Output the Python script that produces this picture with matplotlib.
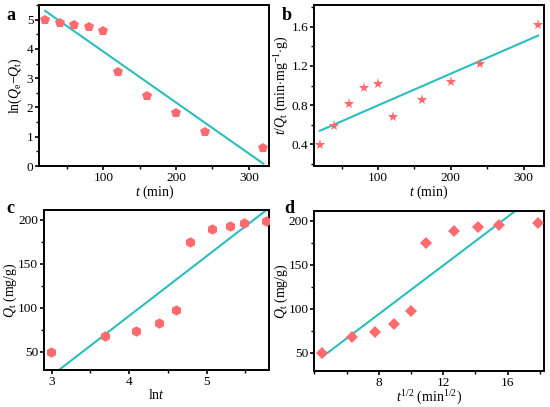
import numpy as np
import matplotlib
matplotlib.use('Agg')
import matplotlib.pyplot as plt
from matplotlib.ticker import AutoMinorLocator

plt.rcParams['font.family'] = ['Liberation Serif', 'DejaVu Serif']
plt.rcParams['mathtext.fontset'] = 'custom'
plt.rcParams['mathtext.rm'] = 'Liberation Serif'
plt.rcParams['mathtext.it'] = 'Liberation Serif:italic'
plt.rcParams['mathtext.bf'] = 'Liberation Serif:bold'

# Data
t = np.array([20, 40, 60, 80, 100, 120, 160, 200, 240, 320])
ln_t = np.log(t)
sqrt_t = np.sqrt(t)
ln_qe_qt = [5.0, 4.88, 4.83, 4.76, 4.62, 3.2, 2.38, 1.82, 1.15, 0.6]
t_over_qt = [0.39, 0.59, 0.81, 0.97, 1.02, 0.68, 0.85, 1.04, 1.22, 1.62]
qt = [50, 68, 74, 83, 98, 175, 189, 193, 196, 198]

# Fitted lines (slope, intercept)
fit_a = (-0.0174, 5.648)
fit_b = (0.00323, 0.475)
fit_c = (67.7, -179.9)
fit_d = (13.86, -16.96)

pt_color = '#FF6B6E'
ln_color = '#2DBDBD'
fs_tick = 9.6
fs = 10

fig = plt.figure(figsize=(5.5, 4.07), dpi=100)
ax_a = fig.add_axes([0.0715, 0.592, 0.418, 0.3957])
ax_b = fig.add_axes([0.571, 0.592, 0.418, 0.3957])
ax_c = fig.add_axes([0.08, 0.091, 0.4096, 0.393])
ax_d = fig.add_axes([0.5715, 0.0892, 0.418, 0.3924])

panels = [
    (ax_a, t, ln_qe_qt, fit_a, 'p', 7.5),
    (ax_b, t, t_over_qt, fit_b, '*', 8),
    (ax_c, ln_t, qt, fit_c, 'h', 7.5),
    (ax_d, sqrt_t, qt, fit_d, 'D', 6.5),
]

for ax, x, y, fit, mk, ms in panels:
    xx = np.array([x[0], x[-1]])
    ax.plot(xx, fit[0] * xx + fit[1], color=ln_color, lw=1.5, zorder=2)
    ax.plot(x, y, linestyle='none', marker=mk, ms=ms, color=pt_color,
            markeredgewidth=0, zorder=3)
    for s in ax.spines.values():
        s.set_linewidth(1.4)
    ax.tick_params(direction='out', labelsize=fs_tick, width=1.2, length=3, pad=1.2)
    ax.tick_params(which='minor', direction='out', width=1.0, length=2)
    ax.xaxis.set_minor_locator(AutoMinorLocator(2))
    ax.yaxis.set_minor_locator(AutoMinorLocator(2))

ax_a.set_xlim(12, 328)
ax_a.set_ylim(0, 5.5)
ax_a.set_xticks([100, 200, 300])
ax_a.set_yticks([0, 1, 2, 3, 4, 5])
ax_a.set_xlabel(r'$\mathit{t}$ (min)', fontsize=fs, labelpad=0)
ax_a.set_ylabel(r'ln($\mathit{Q}_\mathrm{e}$$-$$\mathit{Q}_\mathrm{t}$)', fontsize=fs)
ax_a.yaxis.set_label_coords(-0.068, 0.5)

ax_b.set_xlim(12, 328)
ax_b.set_ylim(0.18, 1.82)
ax_b.set_xticks([100, 200, 300])
ax_b.set_yticks([0.4, 0.8, 1.2, 1.6])
ax_b.set_xlabel(r'$\mathit{t}$ (min)', fontsize=fs, labelpad=0)
ax_b.set_ylabel(r'$\mathit{t}$/$\mathit{Q}_\mathrm{t}$ (min$\cdot$mg$^{-1}$$\cdot$g)', fontsize=fs)
ax_b.yaxis.set_label_coords(-0.1, 0.5)

ax_c.set_xlim(2.9, 5.81)
ax_c.set_ylim(29.5, 211)
ax_c.set_xticks([3, 4, 5])
ax_c.set_yticks([50, 100, 150, 200])
ax_c.set_xlabel(r'ln$\mathit{t}$', fontsize=fs, labelpad=0)
ax_c.set_ylabel(r'$\mathit{Q}_\mathrm{t}$ (mg/g)', fontsize=fs)
ax_c.yaxis.set_label_coords(-0.111, 0.5)

ax_d.set_xlim(4.0, 18.27)
ax_d.set_ylim(29.5, 211.4)
ax_d.set_xticks([8, 12, 16])
ax_d.set_yticks([50, 100, 150, 200])
ax_d.set_xlabel(r'$\mathit{t}^{1/2}$ (min$^{1/2}$)', fontsize=fs, labelpad=0)
ax_d.set_ylabel(r'$\mathit{Q}_\mathrm{t}$ (mg/g)', fontsize=fs)
ax_d.yaxis.set_label_coords(-0.104, 0.5)

for px, py, lab in [(0.012, 0.963, 'a'), (0.513, 0.963, 'b'),
                    (0.012, 0.487, 'c'), (0.516, 0.487, 'd')]:
    fig.text(px, py, lab, fontsize=13, fontweight='bold', va='center')

fig.savefig('out.png', dpi=100)
